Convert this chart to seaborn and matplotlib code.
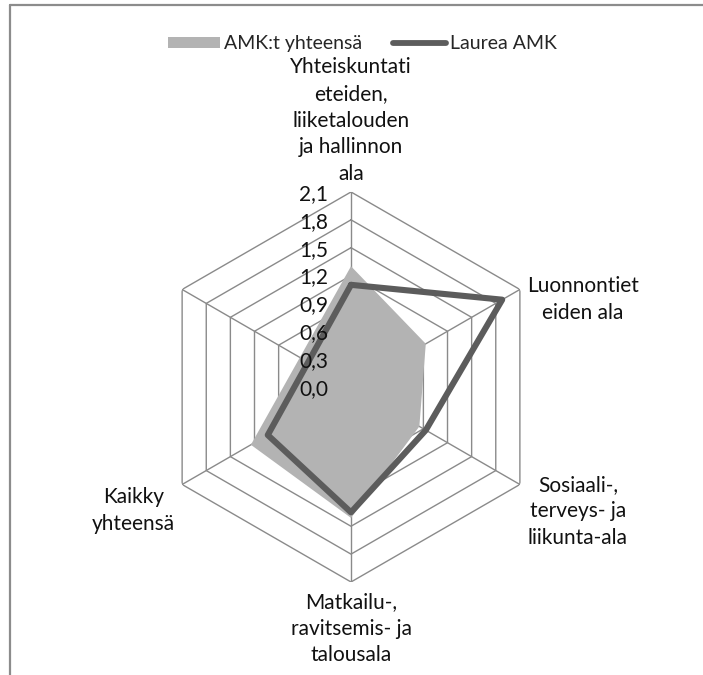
import numpy as np
import pandas as pd
import matplotlib
matplotlib.use("Agg")
import matplotlib.pyplot as plt
import seaborn as sns
from matplotlib.patches import Patch
from matplotlib.lines import Line2D

# categories clockwise from the top; the sixth spoke has no label and no data
CATEGORIES = ["Yhteiskuntati\neteiden,\nliiketalouden\nja hallinnon\nala",
              "Luonnontiet\neiden ala",
              "Sosiaali-,\nterveys- ja\nliikunta-ala",
              "Matkailu-,\nravitsemis- ja\ntalousala",
              "Kaikky\nyhteensä",
              ""]
AMK_TOTAL = [1.30, 0.93, 0.85, 1.41, 1.245]
LAUREA = [1.10, 1.88, 0.93, 1.35, 1.035]
SERIES = ["AMK:t yhteensä", "Laurea AMK"]
RINGS = [0.3, 0.6, 0.9, 1.2, 1.5, 1.8, 2.1]
TICK_LABELS = ["0,0", "0,3", "0,6", "0,9", "1,2", "1,5", "1,8", "2,1"]

GRID = "#8a8a8a"
FILL = "#b3b3b3"
LINE = "#5c5c5c"
FONT = 15

sns.set_style("white")
plt.rcParams["font.family"] = ["Lato", "DejaVu Sans"]

n_spokes = len(CATEGORIES)
angles = np.arange(n_spokes) * 2 * np.pi / n_spokes

fig = plt.figure(figsize=(7.03, 6.75), dpi=100)
ax = fig.add_axes([0.2219, 0.1378, 0.5548, 0.5778], projection="polar")
ax.set_theta_zero_location("N")
ax.set_theta_direction(-1)
ax.set_ylim(0, 2.1)
ax.axis("off")

# hexagonal grid
ring_theta = np.append(angles, angles[0])
for r in RINGS:
    ax.plot(ring_theta, [r] * len(ring_theta), color=GRID, lw=1, zorder=1)
for a in angles:
    ax.plot([a, a], [0, RINGS[-1]], color=GRID, lw=1, zorder=1)

# data polygons (only the five labelled spokes carry values)
data_theta = np.append(angles[:len(AMK_TOTAL)], angles[0] + 2 * np.pi)
df = pd.DataFrame({"theta": data_theta,
                   "amk": AMK_TOTAL + AMK_TOTAL[:1],
                   "laurea": LAUREA + LAUREA[:1]})
ax.fill(df["theta"], df["amk"], color=FILL, lw=0, zorder=2)
sns.lineplot(data=df, x="theta", y="laurea", sort=False, estimator=None,
             color=LINE, lw=4.4, ax=ax, zorder=3, solid_joinstyle="round",
             solid_capstyle="round")

# radial tick labels along the top spoke
for r, lab in zip([0.0] + RINGS, TICK_LABELS):
    ax.annotate(lab, xy=(0, r), xytext=(-23, -2), textcoords="offset pixels",
                ha="right", va="center", fontsize=FONT, color="#111111",
                zorder=5, annotation_clip=False)

# category labels
offsets = [((0, 8), "center", "bottom"),
           ((7, -10), "left", "center"),
           ((8, -27), "left", "center"),
           ((0, -10), "center", "top"),
           ((-7, -26), "right", "center"),
           ((-7, 0), "right", "center")]
for a, lab, (off, ha, va) in zip(angles, CATEGORIES, offsets):
    ax.annotate(lab, xy=(a, RINGS[-1]), xytext=off, textcoords="offset pixels",
                ha=ha, va=va, multialignment="center", fontsize=FONT,
                linespacing=1.42, color="#111111", annotation_clip=False)

handles = [Patch(facecolor=FILL, edgecolor="none"),
           Line2D([0], [0], color=LINE, lw=4.2, solid_capstyle="round")]
fig.legend(handles, SERIES, loc="center", bbox_to_anchor=(0.515, 0.935), ncol=2,
           frameon=False, fontsize=14, handlelength=2.7, handleheight=0.55,
           handletextpad=0.2, columnspacing=1.6)

# chart frame (only top and left edges fall inside the picture)
fig.add_artist(Line2D([10 / 703, 1], [1 - 4.5 / 675] * 2, transform=fig.transFigure,
                      color="#8c8c8c", lw=1.6))
fig.add_artist(Line2D([10 / 703] * 2, [0, 1 - 4.5 / 675], transform=fig.transFigure,
                      color="#8c8c8c", lw=1.6))

fig.savefig("out.png", dpi=100, facecolor="white")
